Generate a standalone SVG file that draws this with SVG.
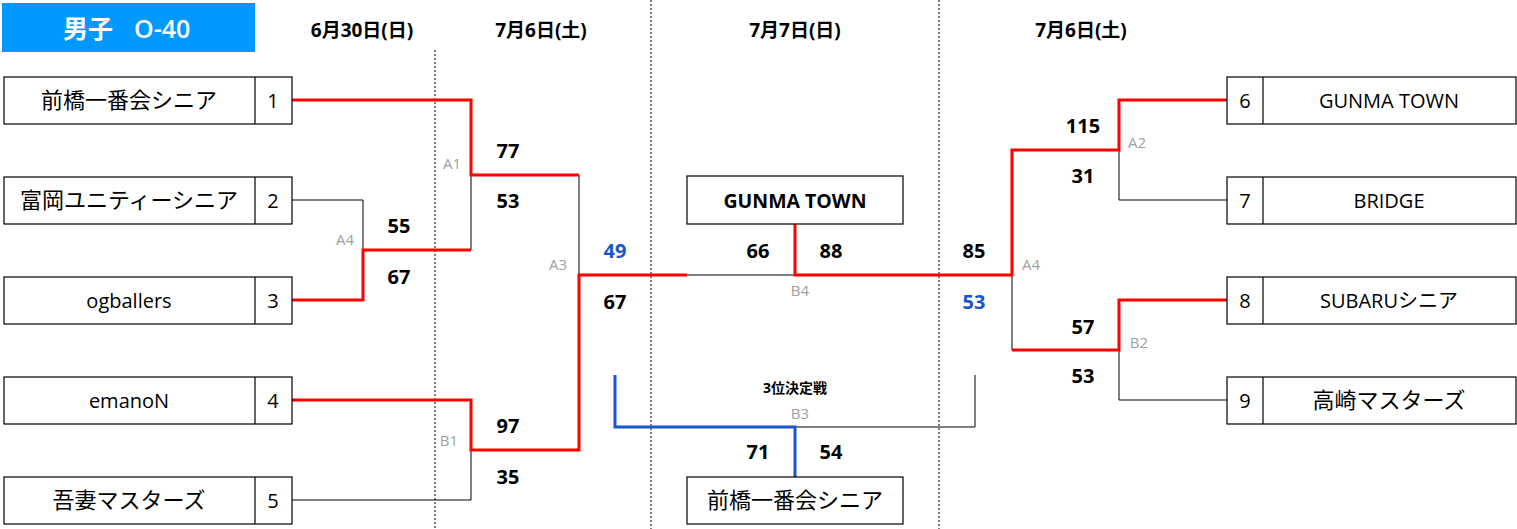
<svg xmlns="http://www.w3.org/2000/svg" width="1517" height="529" viewBox="0 0 1517 529">
<style>
.box{fill:#fff;stroke:#000;stroke-width:1.2}
.name{font-family:"Open Sans","Noto Sans CJK JP",sans-serif;font-size:20px;fill:#000;text-anchor:middle}
.jp{font-size:22px}
.num{font-family:"Open Sans","Noto Sans CJK JP",sans-serif;font-size:20px;fill:#000;text-anchor:middle}
.score{font-family:"Open Sans",sans-serif;font-weight:bold;font-size:20px;fill:#000;text-anchor:middle}
.blue{fill:#1a56c9}
.lab{font-family:"Open Sans",sans-serif;font-size:15px;fill:#a0a0a0;text-anchor:middle}
.date{font-family:"Open Sans","Noto Sans CJK JP",sans-serif;font-weight:bold;font-size:19px;fill:#000;text-anchor:middle}
.red{fill:none;stroke:#ff0000;stroke-width:3}
.thin{fill:none;stroke:#000;stroke-width:1}
.bl{fill:none;stroke:#1a56c9;stroke-width:3}
.dash{stroke:#000;stroke-width:1;stroke-dasharray:2,2}
</style>
<rect width="1517" height="529" fill="#fff"/>
<g id="header">
<rect x="2" y="3" width="253" height="49" fill="#0099ff"/>
<text x="63" y="38" font-family="'Open Sans','Noto Sans CJK JP',sans-serif" font-weight="bold" font-size="25" fill="#fff">男子</text>
<text x="134" y="38" font-family="'Open Sans','Noto Sans CJK JP',sans-serif" font-weight="600" font-size="25" fill="#fff">O-40</text>
<text class="date" x="362" y="37">6月30日(日)</text>
<text class="date" x="541" y="37">7月6日(土)</text>
<text class="date" x="795" y="37">7月7日(日)</text>
<text class="date" x="1081" y="37">7月6日(土)</text>
</g>
<g id="dividers">
<line class="dash" x1="435" y1="50" x2="435" y2="529"/>
<line class="dash" x1="651" y1="0" x2="651" y2="529"/>
<line class="dash" x1="939" y1="0" x2="939" y2="529"/>
</g>
<g id="connectors">
<polyline class="thin" points="292,200 363,200 363,250"/>
<polyline class="thin" points="471,175 471,250"/>
<polyline class="thin" points="292,500 471,500 471,450"/>
<polyline class="thin" points="579,175 579,275"/>
<polyline class="thin" points="687,275 795,275"/>
<polyline class="thin" points="1227,200 1119,200 1119,150"/>
<polyline class="thin" points="1227,400 1119,400 1119,350"/>
<polyline class="thin" points="1012,275 1012,350"/>
<polyline class="thin" points="795,427 975,427 975,375"/>
<polyline class="red" points="292,100 471,100 471,175 579,175"/>
<polyline class="red" points="292,300 363,300 363,250 471,250"/>
<polyline class="red" points="292,400 471,400 471,450 579,450 579,275 687,275"/>
<polyline class="red" points="795,224 795,275 1012,275 1012,150 1119,150 1119,100 1227,100"/>
<polyline class="red" points="1012,350 1119,350 1119,300 1227,300"/>
<polyline class="bl" points="615,375 615,427 795,427 795,477"/>
</g>
<g id="team1"><rect class="box" x="4" y="77" width="288" height="47"/><line class="box" x1="255" y1="77" x2="255" y2="124"/><text class="name jp" x="129" y="108">前橋一番会シニア</text><text class="num" x="273" y="108">1</text></g>
<g id="team2"><rect class="box" x="4" y="177" width="288" height="47"/><line class="box" x1="255" y1="177" x2="255" y2="224"/><text class="name jp" x="129" y="208">富岡ユニティーシニア</text><text class="num" x="273" y="208">2</text></g>
<g id="team3"><rect class="box" x="4" y="277" width="288" height="47"/><line class="box" x1="255" y1="277" x2="255" y2="324"/><text class="name" x="129" y="308">ogballers</text><text class="num" x="273" y="308">3</text></g>
<g id="team4"><rect class="box" x="4" y="377" width="288" height="47"/><line class="box" x1="255" y1="377" x2="255" y2="424"/><text class="name" x="129" y="408">emanoN</text><text class="num" x="273" y="408">4</text></g>
<g id="team5"><rect class="box" x="4" y="477" width="288" height="47"/><line class="box" x1="255" y1="477" x2="255" y2="524"/><text class="name jp" x="129" y="508">吾妻マスターズ</text><text class="num" x="273" y="508">5</text></g>
<g id="team6"><rect class="box" x="1227" y="77" width="289" height="47"/><line class="box" x1="1263" y1="77" x2="1263" y2="124"/><text class="name" x="1389" y="108">GUNMA TOWN</text><text class="num" x="1245" y="108">6</text></g>
<g id="team7"><rect class="box" x="1227" y="177" width="289" height="47"/><line class="box" x1="1263" y1="177" x2="1263" y2="224"/><text class="name" x="1389" y="208">BRIDGE</text><text class="num" x="1245" y="208">7</text></g>
<g id="team8"><rect class="box" x="1227" y="277" width="289" height="47"/><line class="box" x1="1263" y1="277" x2="1263" y2="324"/><text class="name" x="1389" y="308">SUBARUシニア</text><text class="num" x="1245" y="308">8</text></g>
<g id="team9"><rect class="box" x="1227" y="377" width="289" height="47"/><line class="box" x1="1263" y1="377" x2="1263" y2="424"/><text class="name jp" x="1389" y="408">高崎マスターズ</text><text class="num" x="1245" y="408">9</text></g>
<g id="champion"><rect class="box" x="687" y="176" width="216" height="48"/><text x="795" y="208" font-family="'Open Sans',sans-serif" font-weight="bold" font-size="19.5" text-anchor="middle">GUNMA TOWN</text></g>
<g id="third"><rect class="box" x="687" y="477" width="216" height="47"/><text class="name jp" x="795" y="508">前橋一番会シニア</text></g>
<g id="labels">
<text class="lab" x="452" y="169">A1</text>
<text class="lab" x="345" y="245">A4</text>
<text class="lab" x="558" y="270">A3</text>
<text class="lab" x="449" y="446">B1</text>
<text class="lab" x="800" y="296">B4</text>
<text class="lab" x="800" y="419">B3</text>
<text class="lab" x="1137" y="148">A2</text>
<text class="lab" x="1031" y="270">A4</text>
<text class="lab" x="1139" y="348">B2</text>
<text x="795" y="393" font-family="'Open Sans','Noto Sans CJK JP',sans-serif" font-weight="bold" font-size="14" text-anchor="middle">3位決定戦</text>
</g>
<g id="scores">
<text class="score" x="508" y="158">77</text>
<text class="score" x="508" y="208">53</text>
<text class="score" x="399" y="233">55</text>
<text class="score" x="399" y="284">67</text>
<text class="score" x="508" y="433">97</text>
<text class="score" x="508" y="484">35</text>
<text class="score blue" x="615" y="258">49</text>
<text class="score" x="615" y="309">67</text>
<text class="score" x="758" y="258">66</text>
<text class="score" x="831" y="258">88</text>
<text class="score" x="974" y="258">85</text>
<text class="score blue" x="974" y="309">53</text>
<text class="score" x="1083" y="133">115</text>
<text class="score" x="1083" y="183">31</text>
<text class="score" x="1083" y="334">57</text>
<text class="score" x="1083" y="383">53</text>
<text class="score" x="758" y="459">71</text>
<text class="score" x="831" y="459">54</text>
</g>
</svg>
